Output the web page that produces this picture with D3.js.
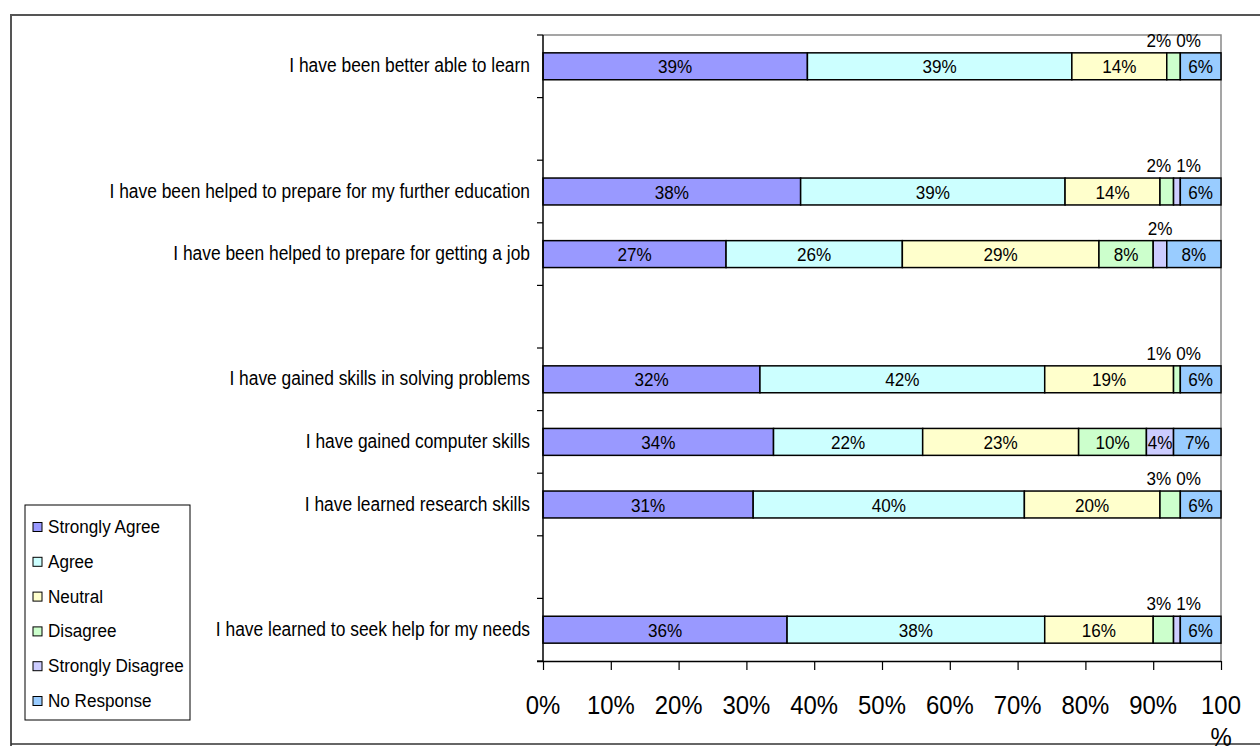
<!DOCTYPE html>
<html><head><meta charset="utf-8">
<script src="https://cdn.jsdelivr.net/npm/d3@7/dist/d3.min.js"></script>
<style>
html,body{margin:0;padding:0;background:#fff;}
svg{display:block;font-family:"Liberation Sans",Arial,sans-serif;}
</style></head>
<body>
<svg id="chart" width="1260" height="746"></svg>
<script>
const categories = [
  "I have been better able to learn",
  "",
  "I have been helped to prepare for my further education",
  "I have been helped to prepare for getting a job",
  "",
  "I have gained skills in solving problems",
  "I have gained computer skills",
  "I have learned research skills",
  "",
  "I have learned to seek help for my needs"
];
const seriesNames = ["Strongly Agree","Agree","Neutral","Disagree","Strongly Disagree","No Response"];
const stronglyAgree    = [39,null,38,27,null,32,34,31,null,36];
const agree            = [39,null,39,26,null,42,22,40,null,38];
const neutral          = [14,null,14,29,null,19,23,20,null,16];
const disagree         = [2, null,2, 8, null,1, 10,3, null,3];
const stronglyDisagree = [0, null,1, 2, null,0, 4, 0, null,1];
const noResponse       = [6, null,6, 8, null,6, 7, 6, null,6];
const seriesColors = ["#9999FF","#CCFFFF","#FFFFCC","#CCFFCC","#CCCCFF","#99CCFF"];
const xTickValues = [0,10,20,30,40,50,60,70,80,90,100];
const xTickLabels = ["0%","10%","20%","30%","40%","50%","60%","70%","80%","90%","100%"];

const seriesValues = [stronglyAgree, agree, neutral, disagree, stronglyDisagree, noResponse];
const svg = d3.select("#chart");

// outer chart frame
svg.append("path").attr("d","M11,746 V15 H1262").attr("fill","none").attr("stroke","#555").attr("stroke-width",2);
svg.append("line").attr("x1",11).attr("x2",1262).attr("y1",744).attr("y2",744).attr("stroke","#333").attr("stroke-width",1.5);

const plot = {left:543, right:1221, top:35, bottom:661};
const x = d3.scaleLinear().domain([0,100]).range([plot.left, plot.right]);
const y = d3.scaleBand().domain(d3.range(categories.length)).range([plot.top, plot.bottom])
  .paddingInner(0.57).paddingOuter(0.285);
const step = y.step();

// plot border (gray) top & right
svg.append("path").attr("d",`M${plot.left},${plot.top} H${plot.right} V${plot.bottom}`)
  .attr("fill","none").attr("stroke","#888").attr("stroke-width",1.5);

const rows = categories.map((c,i)=>({i, name:c, vals:seriesValues.map(s=>s[i])}))
  .filter(r=>r.vals[0]!==null);

function label(parent, tx, ty, anchor, txt) {
  parent.append("text").attr("transform",`translate(${tx},${ty}) scale(0.9,1)`)
    .attr("text-anchor",anchor).attr("font-size",19).attr("fill","#000").text(txt);
}

const g = svg.append("g");
rows.forEach(r=>{
  let acc=0;
  const segs = r.vals.map((v,k)=>{const s={k, v, x0:acc, x1:acc+v}; acc+=v; return s;});
  const y0 = y(r.i), h = y.bandwidth(), cy = y0 + h/2;
  segs.forEach(s=>{
    if (s.v>0) g.append("rect").attr("x",x(s.x0)).attr("y",y0).attr("width",x(s.x1)-x(s.x0)).attr("height",h)
      .attr("fill",seriesColors[s.k]).attr("stroke","#000").attr("stroke-width",1.5);
  });
  const nrStart = x(segs[5].x0);
  const dSmall = segs[3].v<=3, sdSmall = segs[4].v<=3;
  segs.forEach(s=>{
    const lab = s.v+"%";
    if (s.v>3) {
      label(g, (x(s.x0)+x(s.x1))/2, cy+7, "middle", lab);
    } else if (dSmall && sdSmall) {
      if (s.k===3) label(g, nrStart-9, y0-6, "end", lab);
      else label(g, nrStart-4, y0-6, "start", lab);
    } else {
      label(g, (x(s.x0)+x(s.x1))/2, y0-6, "middle", lab);
    }
  });
  svg.append("text").attr("transform",`translate(530,${cy+6}) scale(0.87,1)`).attr("text-anchor","end")
    .attr("font-size",20).attr("fill","#000").text(r.name);
});

// y axis
svg.append("line").attr("x1",plot.left).attr("x2",plot.left).attr("y1",plot.top).attr("y2",plot.bottom).attr("stroke","#000").attr("stroke-width",1.5);
d3.range(categories.length+1).forEach(k=>{
  const ty = plot.top + k*step;
  svg.append("line").attr("x1",plot.left-6).attr("x2",plot.left).attr("y1",ty).attr("y2",ty).attr("stroke","#000").attr("stroke-width",1.2);
});
// x axis
const xAxis = d3.axisBottom(x).tickValues(xTickValues).tickSize(9).tickFormat("");
const xg = svg.append("g").attr("transform",`translate(0,${plot.bottom})`).call(xAxis);
xg.select(".domain").attr("d",`M${plot.left-6},0.5H${plot.right}`).attr("stroke","#000").attr("stroke-width",1.5);
xg.selectAll(".tick line").attr("stroke","#000").attr("stroke-width",1.2);
xTickValues.forEach((v,k)=>{
  const lab = xTickLabels[k];
  const t = svg.append("text").attr("transform",`translate(${x(v)},714) scale(0.92,1)`).attr("text-anchor","middle")
    .attr("font-size",26).attr("fill","#000");
  if (lab.length>3) {
    t.append("tspan").attr("x",0).attr("y",0).text(lab.slice(0,-1));
    t.append("tspan").attr("x",0).attr("y",32).text("%");
  } else t.text(lab);
});

// legend
const lg = svg.append("g");
lg.append("rect").attr("x",25).attr("y",505).attr("width",165).attr("height",215).attr("fill","#fff").attr("stroke","#000").attr("stroke-width",1);
seriesNames.forEach((n,k)=>{
  const cy = 527 + k*34.8;
  lg.append("rect").attr("x",33).attr("y",cy-4.5).attr("width",9).attr("height",9).attr("fill",seriesColors[k]).attr("stroke","#000").attr("stroke-width",1);
  lg.append("text").attr("transform",`translate(48,${cy+6}) scale(0.9,1)`).attr("font-size",19).attr("fill","#000").text(n);
});
</script>
</body></html>
